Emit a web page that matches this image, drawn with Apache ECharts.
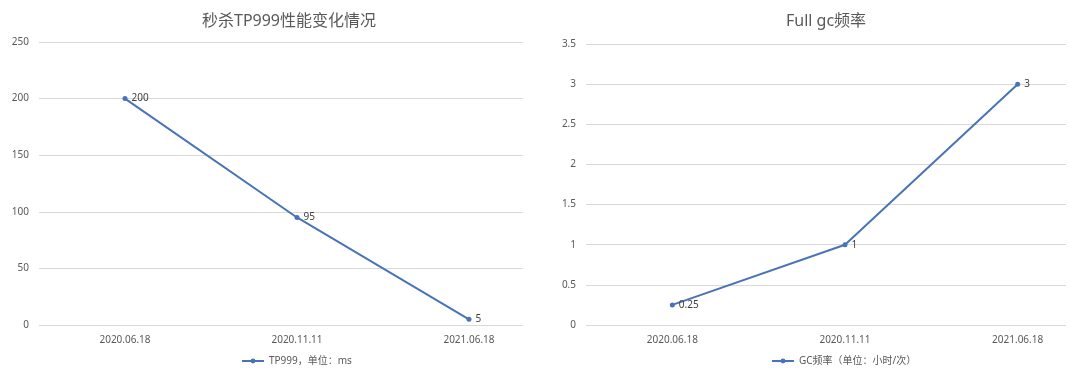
<!DOCTYPE html>
<html><head><meta charset="utf-8">
<script src="https://cdn.jsdelivr.net/npm/echarts@6/dist/echarts.min.js"></script>
<style>html,body{margin:0;padding:0;background:#fff}#c{width:1080px;height:376px}</style>
</head><body><div id="c"></div>
<script>
const categories = ['2020.06.18', '2020.11.11', '2021.06.18'];
const tpValues = [200, 95, 5];
const gcValues = [0.25, 1, 3];
const tpName = 'TP999，单位：ms';
const gcName = 'GC频率（单位：小时/次）';
const titles = ['秒杀TP999性能变化情况', 'Full gc频率'];

const FONT = '"Noto Sans", "Noto Sans CJK SC", sans-serif';
const COLOR = '#4a73b6';
const txt = '#595959';

function xAxis(gi, max) {
  return {
    gridIndex: gi, type: 'value', min: -0.5, max: max,
    axisLine: {show: false}, axisTick: {show: false}, splitLine: {show: false},
    axisLabel: {customValues: [0, 1, 2], formatter: v => categories[Math.round(v)] || '',
      color: txt, fontSize: 10, fontFamily: FONT, margin: 10, showMinLabel: true, showMaxLabel: true}
  };
}
function yAxis(gi, max, interval) {
  return {
    gridIndex: gi, type: 'value', min: 0, max: max, interval: interval,
    axisLine: {show: false}, axisTick: {show: false},
    splitLine: {lineStyle: {color: '#d9d9d9', width: 1}},
    axisLabel: {color: txt, fontSize: 10, fontFamily: FONT, margin: 10}
  };
}
function series(name, vals, gi) {
  return {
    name: name, type: 'line', xAxisIndex: gi, yAxisIndex: gi,
    data: vals.map((v, i) => [i, v]),
    symbol: 'circle', symbolSize: 5,
    lineStyle: {color: COLOR, width: 2}, itemStyle: {color: COLOR},
    label: {show: true, position: 'right', distance: 4, color: '#404040', fontSize: 10, fontFamily: FONT,
      formatter: p => String(p.value[1])},
    animation: false
  };
}

const chart = echarts.init(document.getElementById('c'), null, {renderer: 'canvas'});
chart.setOption({
  animation: false,
  title: [
    {text: titles[0], left: 284, top: 8, textAlign: 'center', textStyle: {color: txt, fontSize: 16, fontWeight: 'normal', fontFamily: FONT}},
    {text: titles[1], left: 821, top: 8, textAlign: 'center', textStyle: {color: txt, fontSize: 16, fontWeight: 'normal', fontFamily: FONT}}
  ],
  legend: [
    {data: [tpName], left: 236, top: 351, itemWidth: 22, itemHeight: 6, itemGap: 4,
      textStyle: {color: txt, fontSize: 10, fontFamily: FONT}},
    {data: [gcName], left: 766, top: 351, itemWidth: 22, itemHeight: 6, itemGap: 4,
      textStyle: {color: txt, fontSize: 10, fontFamily: FONT}}
  ],
  grid: [
    {left: 39, right: 557, top: 42, bottom: 51},
    {left: 586, right: 14, top: 44, bottom: 51}
  ],
  xAxis: [xAxis(0, 2.314), xAxis(1, 2.28)],
  yAxis: [yAxis(0, 250, 50), yAxis(1, 3.5, 0.5)],
  series: [series(tpName, tpValues, 0), series(gcName, gcValues, 1)]
});
</script></body></html>
